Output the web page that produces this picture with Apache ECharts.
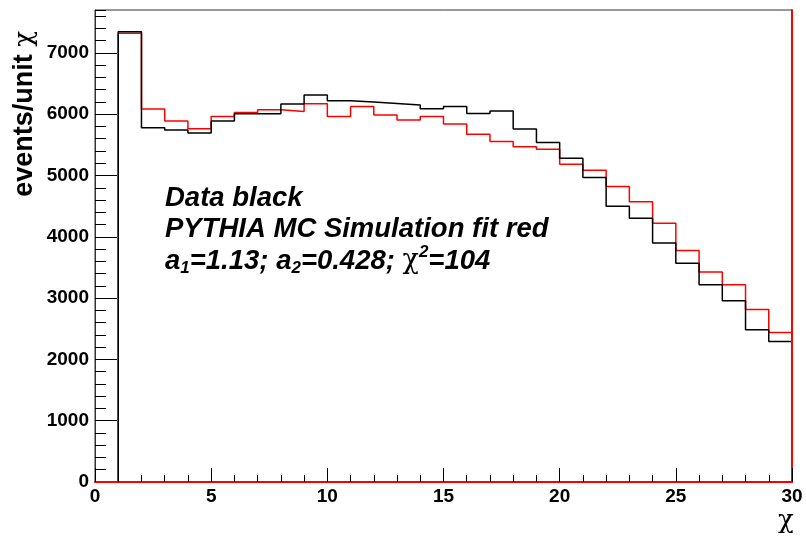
<!DOCTYPE html>
<html><head><meta charset="utf-8">
<script src="https://cdn.jsdelivr.net/npm/echarts@6/dist/echarts.min.js"></script>
<style>html,body{margin:0;padding:0;background:#fff}#c{width:806px;height:538px}</style>
</head><body><div id="c"></div>
<script>
// ---- data ----
const binLowEdges = [0,1,2,3,4,5,6,7,8,9,10,11,12,13,14,15,16,17,18,19,20,21,22,23,24,25,26,27,28,29];
const binWidth = 1;
const dataBlack = [0,7345,5779,5741,5692,5888,6008,6008,6166,6313,6220,6198,6176,6149,6089,6127,6013,6051,5757,5539,5283,4967,4499,4303,3900,3568,3219,2958,2484,2293];
const mcRed     = [0,7320,6084,5888,5763,5964,6029,6073,6046,6171,5964,6127,5986,5904,5964,5839,5675,5556,5468,5430,5185,5087,4820,4570,4221,3775,3426,3219,2816,2440];
const xRange = [0, 30];
const yRange = [0, 7700];
const xTickStep = 5;
const yTickStep = 1000;
const yMinorStep = 200;
const annotationLines = ['Data black', 'PYTHIA MC Simulation fit red'];
const xTitle = 'χ';

function stepData(vals) {
  const pts = binLowEdges.map((x, i) => [x, vals[i]]);
  const endEdge = binLowEdges[binLowEdges.length - 1] + binWidth;
  pts.push([endEdge, vals[vals.length - 1]]);
  pts.push([endEdge, 0]);
  return pts;
}

const FONT = "'Liberation Sans', Arial, Helvetica, sans-serif";
const GREEK = "'DejaVu Serif', 'Liberation Serif', serif";
const chart = echarts.init(document.getElementById('c'), null, {renderer: 'canvas'});
const tickLabel = {fontFamily: FONT, fontWeight: 'bold', fontSize: 19, color: '#000'};
const annStyle = {fontFamily: FONT, fontWeight: 'bold', fontStyle: 'italic', fontSize: 27.5};

chart.setOption({
  animation: false,
  backgroundColor: '#fff',
  grid: {left: 95, right: 14, top: 10, bottom: 56, show: true, borderColor: '#333', borderWidth: 1,
    containLabel: false, outerBoundsMode: 'none'},
  xAxis: {
    type: 'value', min: xRange[0], max: xRange[1], interval: xTickStep, z: 10,
    axisLine: {show: true, lineStyle: {color: '#ff0000', width: 2}},
    axisTick: {show: true, inside: true, length: 14, lineStyle: {color: '#000', width: 1}},
    minorTick: {show: true, splitNumber: 5, length: 7, lineStyle: {color: '#000', width: 1}},
    axisLabel: Object.assign({margin: 5}, tickLabel),
    splitLine: {show: false}
  },
  yAxis: [
    {
      type: 'value', min: yRange[0], max: yRange[1], interval: yTickStep, position: 'left',
      axisLine: {show: true, lineStyle: {color: '#333', width: 1}},
      axisTick: {show: true, inside: true, length: 22, lineStyle: {color: '#000', width: 1}},
      axisLabel: Object.assign({margin: 6, showMaxLabel: false,
        formatter: v => (v % yTickStep === 0 ? String(v) : '')}, tickLabel),
      splitLine: {show: false}
    },
    {
      type: 'value', min: yRange[0], max: yRange[1], interval: yMinorStep, position: 'left',
      axisLine: {show: false},
      axisTick: {show: true, inside: true, length: 11, lineStyle: {color: '#000', width: 1}},
      axisLabel: {show: false}, splitLine: {show: false}
    },
    {
      type: 'value', min: yRange[0], max: yRange[1], position: 'right', z: 10,
      axisLine: {show: true, lineStyle: {color: '#ff0000', width: 2}},
      axisTick: {show: false}, axisLabel: {show: false}, splitLine: {show: false}
    }
  ],
  series: [
    {type: 'line', name: 'PYTHIA MC', step: 'end', data: stepData(mcRed), symbol: 'none',
      lineStyle: {color: '#ff0000', width: 1.5}, z: 2},
    {type: 'line', name: 'Data', step: 'end', data: stepData(dataBlack), symbol: 'none',
      lineStyle: {color: '#000', width: 1.5}, z: 3}
  ],
  graphic: [
    {type: 'text', x: 786, y: 508,
      style: {text: xTitle, fill: '#000', fontFamily: GREEK, fontSize: 26, align: 'center', verticalAlign: 'top'}},
    {type: 'text', x: 25, y: 31, rotation: Math.PI / 2,
      style: {text: 'events/unit {chi|χ}', fill: '#000', fontFamily: FONT, fontWeight: 'bold', fontSize: 27,
        align: 'right', verticalAlign: 'middle',
        rich: {chi: {fontFamily: GREEK, fontSize: 26, fill: '#000'}}}},
    {type: 'text', x: 165, y: 198,
      style: Object.assign({text: annotationLines[0], fill: '#000', verticalAlign: 'middle'}, annStyle)},
    {type: 'text', x: 165, y: 229,
      style: Object.assign({text: annotationLines[1], fill: '#000', verticalAlign: 'middle'}, annStyle)},
    {type: 'text', x: 165, y: 261,
      style: Object.assign({
        text: 'a{sub|1}=1.13; a{sub|2}=0.428; {chi|χ}{sup|2}=104',
        fill: '#000', verticalAlign: 'middle',
        rich: {
          sub: {fontFamily: FONT, fontWeight: 'bold', fontStyle: 'italic', fontSize: 17, fill: '#000', padding: [14, 0, 0, 0]},
          sup: {fontFamily: FONT, fontWeight: 'bold', fontStyle: 'italic', fontSize: 17, fill: '#000', padding: [0, 0, 18, 0]},
          chi: {fontFamily: GREEK, fontWeight: 'normal', fontStyle: 'normal', fontSize: 27, fill: '#000'}
        }
      }, annStyle)}
  ]
});
</script></body></html>
